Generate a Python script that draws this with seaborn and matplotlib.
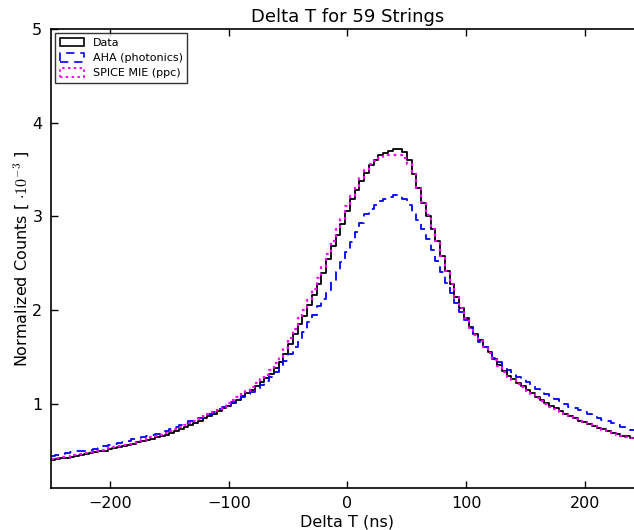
import numpy as np
import pandas as pd
import matplotlib
matplotlib.use("Agg")
import matplotlib.pyplot as plt
import seaborn as sns
from matplotlib.patches import Patch

# ---- data (bin values, bins of 4 ns starting at -250 ns) ----
bin_start = -250
bin_width = 4

data_vals = [
    0.40, 0.41, 0.42, 0.42, 0.43, 0.44, 0.45, 0.46, 0.47, 0.48, 0.49, 0.50,
    0.52, 0.53, 0.54, 0.55, 0.56, 0.57, 0.59, 0.60, 0.61, 0.62, 0.64, 0.65,
    0.67, 0.69, 0.71, 0.73, 0.75, 0.77, 0.79, 0.82, 0.85, 0.87, 0.89, 0.92,
    0.95, 0.98, 1.01, 1.04, 1.08, 1.11, 1.15, 1.19, 1.23, 1.27, 1.32, 1.38,
    1.45, 1.53, 1.64, 1.74, 1.85, 1.94, 2.05, 2.16, 2.28, 2.40, 2.54, 2.68,
    2.80, 2.92, 3.06, 3.18, 3.28, 3.38, 3.46, 3.55, 3.60, 3.65, 3.68, 3.70,
    3.72, 3.72, 3.69, 3.60, 3.45, 3.30, 3.14, 3.00, 2.86, 2.74, 2.58, 2.42,
    2.28, 2.14, 2.02, 1.92, 1.82, 1.74, 1.68, 1.61, 1.55, 1.48, 1.41, 1.35,
    1.30, 1.26, 1.22, 1.19, 1.15, 1.11, 1.07, 1.04, 1.01, 0.98, 0.95, 0.92,
    0.89, 0.87, 0.85, 0.82, 0.80, 0.78, 0.76, 0.74, 0.73, 0.71, 0.69, 0.68,
    0.66, 0.65, 0.63,
]

aha_vals = [
    0.44, 0.45, 0.46, 0.47, 0.48, 0.49, 0.50, 0.50, 0.51, 0.52, 0.53, 0.55,
    0.56, 0.57, 0.58, 0.59, 0.60, 0.62, 0.63, 0.64, 0.65, 0.67, 0.68, 0.70,
    0.71, 0.73, 0.75, 0.77, 0.79, 0.81, 0.83, 0.85, 0.87, 0.89, 0.91, 0.94,
    0.97, 0.99, 1.02, 1.05, 1.07, 1.10, 1.13, 1.16, 1.20, 1.24, 1.29, 1.34,
    1.40, 1.46, 1.53, 1.60, 1.68, 1.77, 1.87, 1.95, 2.04, 2.12, 2.21, 2.31,
    2.41, 2.51, 2.62, 2.73, 2.83, 2.93, 3.02, 3.08, 3.12, 3.16, 3.19, 3.21,
    3.23, 3.22, 3.18, 3.12, 3.05, 2.96, 2.86, 2.76, 2.64, 2.52, 2.41, 2.29,
    2.18, 2.08, 1.98, 1.89, 1.81, 1.73, 1.66, 1.60, 1.54, 1.49, 1.44, 1.40,
    1.36, 1.32, 1.29, 1.26, 1.23, 1.19, 1.16, 1.13, 1.10, 1.08, 1.05, 1.03,
    1.00, 0.97, 0.95, 0.93, 0.91, 0.89, 0.87, 0.85, 0.83, 0.81, 0.79, 0.77,
    0.75, 0.73, 0.72,
]

spice_vals = [
    0.41, 0.42, 0.43, 0.43, 0.44, 0.45, 0.46, 0.47, 0.48, 0.49, 0.50, 0.51,
    0.53, 0.54, 0.55, 0.56, 0.57, 0.58, 0.60, 0.61, 0.62, 0.64, 0.65, 0.67,
    0.69, 0.71, 0.73, 0.75, 0.77, 0.79, 0.81, 0.84, 0.87, 0.89, 0.91, 0.94,
    0.97, 1.01, 1.04, 1.07, 1.11, 1.14, 1.18, 1.22, 1.26, 1.31, 1.36, 1.43,
    1.50, 1.59, 1.70, 1.80, 1.91, 2.00, 2.11, 2.22, 2.34, 2.46, 2.60, 2.74,
    2.86, 2.97, 3.11, 3.22, 3.32, 3.41, 3.49, 3.56, 3.59, 3.62, 3.64, 3.66,
    3.66, 3.65, 3.62, 3.56, 3.45, 3.30, 3.15, 3.01, 2.87, 2.74, 2.58, 2.42,
    2.28, 2.14, 2.02, 1.91, 1.81, 1.73, 1.67, 1.60, 1.54, 1.47, 1.40, 1.34,
    1.29, 1.25, 1.21, 1.18, 1.14, 1.10, 1.06, 1.03, 1.00, 0.97, 0.94, 0.91,
    0.89, 0.86, 0.84, 0.82, 0.80, 0.78, 0.76, 0.74, 0.72, 0.71, 0.69, 0.67,
    0.66, 0.64, 0.63,
]

series_names = ["Data", "AHA (photonics)", "SPICE MIE (ppc)"]
x_ticks = [-200, -100, 0, 100, 200]
y_ticks = [1, 2, 3, 4, 5]

# ---- build table ----
n_bins = len(data_vals)
bin_end = bin_start + bin_width * n_bins
centers = bin_start + bin_width * (np.arange(n_bins) + 0.5)
frames = []
for name, vals in zip(series_names, [data_vals, aha_vals, spice_vals]):
    frames.append(pd.DataFrame({"dt": centers, "w": vals, "series": name}))
df = pd.concat(frames, ignore_index=True)

plt.rcParams["font.family"] = ["DejaVu Sans"]
plt.rcParams["mathtext.fontset"] = "cm"

W, H = 634, 530
fig = plt.figure(figsize=(W / 100, H / 100), dpi=100)
ax_w = 593.5 / W
ax = fig.add_axes([50.7 / W, 42 / H, ax_w, 459 / H])

styles = {
    "Data": dict(color="black", linestyle="-", linewidth=1.3),
    "AHA (photonics)": dict(color="blue", linestyle=(0, (5, 3.5)), linewidth=1.3),
    "SPICE MIE (ppc)": dict(color="magenta", linestyle=(0, (1.2, 1.8)), linewidth=1.6),
}
for name in series_names:
    sub = df[df["series"] == name].reset_index(drop=True)
    sns.histplot(data=sub, x="dt", weights="w", binwidth=bin_width,
                 binrange=(bin_start, bin_end), element="step",
                 fill=False, ax=ax, **styles[name])

ax.set_xlim(-250, 250)
ax.set_ylim(0.1, 5)
ax.set_xticks(x_ticks)
ax.set_yticks(y_ticks)
ax.set_xticklabels([f"{t}".replace("-", "\u2212") for t in x_ticks])
ax.set_yticklabels([str(t) for t in y_ticks])
ax.tick_params(direction="in", top=True, right=True, length=5, width=1,
               labelsize=11.5, pad=6)
for s in ax.spines.values():
    s.set_linewidth(1.2)

ax.set_xlabel("Delta T (ns)", fontsize=11.5, labelpad=2)
ax.set_ylabel(r"Normalized Counts [ $\cdot 10^{-3}$ ]", fontsize=11.5, labelpad=1)
ax.set_title("Delta T for 59 Strings", fontsize=13, pad=5)

handles = [
    Patch(facecolor="none", edgecolor="black", linestyle="-", linewidth=1.2),
    Patch(facecolor="none", edgecolor="blue", linestyle=(0, (5, 3.5)), linewidth=1.2),
    Patch(facecolor="none", edgecolor="magenta", linestyle=(0, (1.2, 1.8)), linewidth=1.4),
]
leg = ax.legend(handles, series_names, loc="upper left", fontsize=8,
                frameon=True, fancybox=False, borderaxespad=0.4,
                handlelength=2.2, handleheight=0.8, labelspacing=0.45,
                borderpad=0.4)
leg.get_frame().set_edgecolor("black")
leg.get_frame().set_linewidth(1.0)

fig.savefig("out.png", dpi=100)
